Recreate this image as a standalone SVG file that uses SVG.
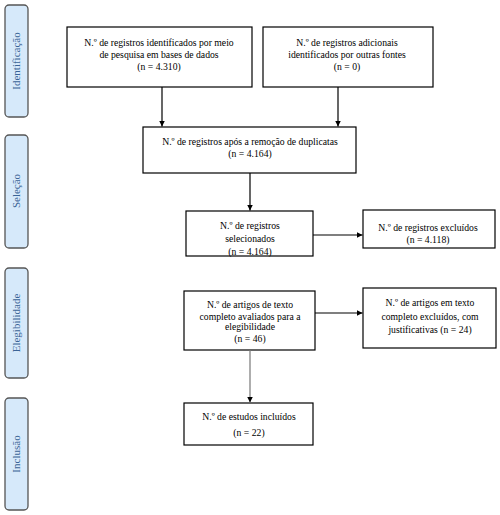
<svg xmlns="http://www.w3.org/2000/svg" width="500" height="515" viewBox="0 0 500 515">
<style>
.box{fill:#fff;stroke:#000;stroke-width:1.2}
.side{fill:#d6e9fa;stroke:#555;stroke-width:1.3}
.t{font-family:'Liberation Serif','Times New Roman',Times,'DejaVu Serif',serif;font-size:9.7px;fill:#000;text-anchor:middle}
.s{font-family:'Liberation Serif','Times New Roman',Times,'DejaVu Serif',serif;font-size:11px;fill:#3a6496;text-anchor:middle}
.c{stroke:#000;stroke-width:1.2;fill:none;marker-end:url(#ah)}
</style>
<defs>
<marker id="ah" markerWidth="7" markerHeight="7" refX="6" refY="3.5" orient="auto" markerUnits="userSpaceOnUse">
<path d="M0,0.5 L6,3.5 L0,6.5 Z" fill="#000"/>
</marker>
</defs>
<rect width="500" height="515" fill="#fff"/>
<g id="side-identificacao"><rect class="side" x="5" y="5" width="23" height="112" rx="4"/><text class="s" transform="translate(20,61) rotate(-90)">Identificação</text></g>
<g id="side-selecao"><rect class="side" x="5" y="135" width="23" height="113" rx="4"/><text class="s" transform="translate(20,191) rotate(-90)">Seleção</text></g>
<g id="side-elegibilidade"><rect class="side" x="5" y="268" width="23" height="110" rx="4"/><text class="s" transform="translate(20,323) rotate(-90)">Elegibilidade</text></g>
<g id="side-inclusao"><rect class="side" x="5" y="398" width="23" height="112" rx="4"/><text class="s" transform="translate(20,454) rotate(-90)">Inclusão</text></g>

<g id="n1"><rect class="box" x="67" y="27" width="185" height="60"/>
<text class="t" x="159" y="46">N.º de registros identificados por meio</text>
<text class="t" x="159" y="58">de pesquisa em bases de dados</text>
<text class="t" x="159" y="70">(n = 4.310)</text></g>
<g id="n2"><rect class="box" x="263" y="27" width="170" height="60"/>
<text class="t" x="347" y="46">N.º de registros adicionais</text>
<text class="t" x="347" y="58">identificados por outras fontes</text>
<text class="t" x="347" y="70">(n = 0)</text></g>
<g id="n3"><rect class="box" x="143" y="127" width="213" height="46"/>
<text class="t" x="250" y="145">N.º de registros após a remoção de duplicatas</text>
<text class="t" x="250" y="157">(n = 4.164)</text></g>
<g id="n4"><rect class="box" x="186" y="211" width="127" height="45"/>
<text class="t" x="250" y="229">N.º de registros</text>
<text class="t" x="250" y="242">selecionados</text>
<text class="t" x="250" y="255">(n = 4.164)</text></g>
<g id="n5"><rect class="box" x="363" y="210" width="132" height="38"/>
<text class="t" x="428" y="231">N.º de registros excluídos</text>
<text class="t" x="428" y="243">(n = 4.118)</text></g>
<g id="n6"><rect class="box" x="184" y="291" width="131" height="59"/>
<text class="t" x="250" y="308">N.º de artigos de texto</text>
<text class="t" x="250" y="320">completo avaliados para a</text>
<text class="t" x="250" y="330">elegibilidade</text>
<text class="t" x="250" y="342">(n = 46)</text></g>
<g id="n7"><rect class="box" x="363" y="288" width="133" height="60"/>
<text class="t" x="430" y="306">N.º de artigos em texto</text>
<text class="t" x="430" y="320">completo excluídos, com</text>
<text class="t" x="430" y="333">justificativas (n = 24)</text></g>
<g id="n8"><rect class="box" x="184" y="403" width="129" height="42"/>
<text class="t" x="249" y="420">N.º de estudos incluídos</text>
<text class="t" x="249" y="436">(n = 22)</text></g>

<g id="connectors">
<line class="c" x1="162" y1="87" x2="162" y2="126.5"/>
<line class="c" x1="338" y1="87" x2="338" y2="126.5"/>
<line class="c" x1="250" y1="173" x2="250" y2="210.5"/>
<line class="c" x1="313" y1="235" x2="362.5" y2="235"/>
<line class="c" x1="315" y1="313" x2="362.5" y2="313"/>
<line class="c" x1="250" y1="350" x2="250" y2="402.5" style="stroke:#777"/>
</g>
</svg>
